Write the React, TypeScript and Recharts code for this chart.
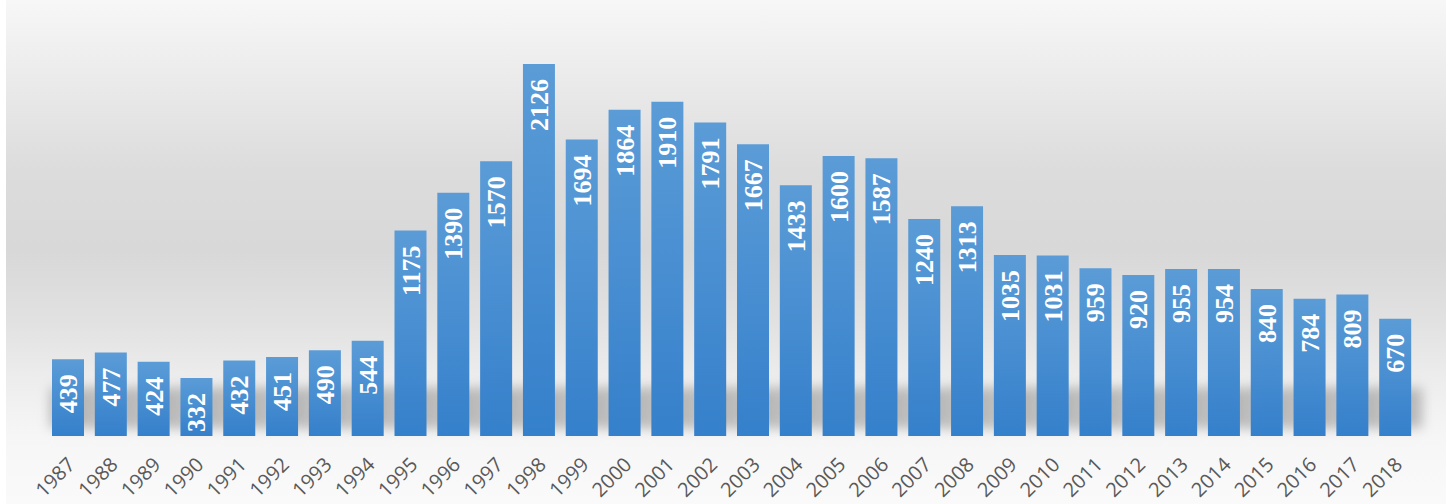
import { BarChart, Bar, XAxis, YAxis, LabelList } from "recharts";

const years = [
  "1987", "1988", "1989", "1990", "1991", "1992", "1993", "1994", "1995", "1996", "1997",
  "1998", "1999", "2000", "2001", "2002", "2003", "2004", "2005", "2006", "2007", "2008",
  "2009", "2010", "2011", "2012", "2013", "2014", "2015", "2016", "2017", "2018",
];
const counts = [
  439, 477, 424, 332, 432, 451, 490, 544, 1175, 1390, 1570,
  2126, 1694, 1864, 1910, 1791, 1667, 1433, 1600, 1587, 1240, 1313,
  1035, 1031, 959, 920, 955, 954, 840, 784, 809, 670,
];

const data = years.map((year, i) => ({ year, count: counts[i] }));

const YearTick = (props: any) => {
  const { x, y, payload } = props;
  const ax = x - 4;
  const ay = y + 10;
  return (
    <text
      x={ax}
      y={ay}
      transform={`rotate(-45, ${ax}, ${ay})`}
      textAnchor="end"
      dominantBaseline="hanging"
      fill="#595959"
      fontFamily="'Open Sans', sans-serif"
      fontSize={20}
    >
      {payload.value}
    </text>
  );
};

const ValueLabel = (props: any) => {
  const { x, y, width, value } = props;
  const tx = x + width / 2 + 9;
  const ty = y + 15;
  return (
    <text
      x={tx}
      y={ty}
      transform={`rotate(-90, ${tx}, ${ty})`}
      textAnchor="end"
      fill="#ffffff"
      fontFamily="'Liberation Serif', 'Times New Roman', serif"
      fontWeight="bold"
      fontSize={26}
    >
      {value}
    </text>
  );
};

// soft shadow at the foot of each bar
const FootShadow = (props: any) => {
  const { x, y, width, height } = props;
  const base = y + height;
  return (
    <rect
      x={x - 2}
      y={base - 48}
      width={width + 13}
      height={40}
      fill="#a0a0a0"
      opacity={0.7}
      filter="url(#footBlur)"
    />
  );
};

export default function App() {
  return (
    <div style={{ position: "absolute", left: 0, top: 0, width: 1454, height: 504, background: "#ffffff" }}>
      <svg width={0} height={0} style={{ position: "absolute" }}>
        <defs>
          <linearGradient id="barFill" x1="0" y1="0" x2="0" y2="1">
            <stop offset="0%" stopColor="#5b9cd7" />
            <stop offset="100%" stopColor="#3580cb" />
          </linearGradient>
          <filter id="footBlur" x="-50%" y="-50%" width="200%" height="200%">
            <feGaussianBlur stdDeviation="6" />
          </filter>
        </defs>
      </svg>
      <div
        style={{
          position: "absolute",
          left: 6,
          top: 0,
          width: 1440,
          height: 504,
          background:
            "linear-gradient(to bottom, #f7f7f7 0px, #e9e9e9 90px, #dcdcdc 170px, #d8d8d8 250px, #e1e1e1 320px, #ededed 380px, #f6f6f6 436px, #fafafa 504px)",
        }}
      />
      <div style={{ position: "absolute", left: 0, top: 0 }}>
        <BarChart
          width={1454}
          height={504}
          data={data}
          margin={{ top: 16, right: 37, left: 47, bottom: 0 }}
        >
          <XAxis
            dataKey="year"
            axisLine={false}
            tickLine={false}
            interval={0}
            height={68}
            tick={<YearTick />}
          />
          <YAxis hide domain={[0, 2400]} />
          <Bar
            dataKey="count"
            fill="url(#barFill)"
            barSize={32}
            background={<FootShadow />}
            isAnimationActive={false}
          >
            <LabelList dataKey="count" content={<ValueLabel />} />
          </Bar>
        </BarChart>
      </div>
    </div>
  );
}
